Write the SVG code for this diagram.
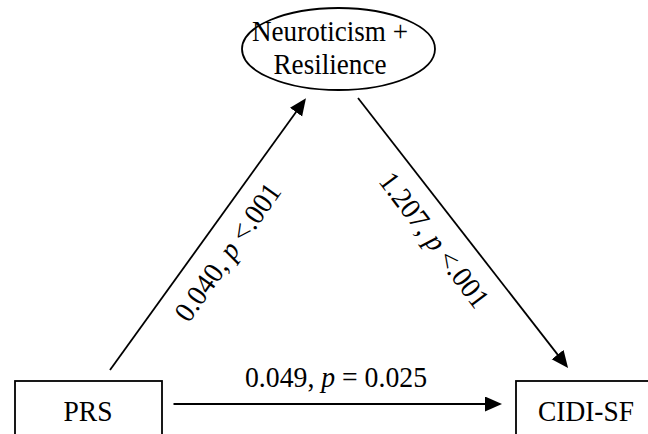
<svg xmlns="http://www.w3.org/2000/svg" width="648" height="434" viewBox="0 0 648 434">
  <style>
    text { font-family: "Liberation Serif", "Times New Roman", serif; font-size: 29px; fill: #000; }
    .node { fill: #fff; stroke: #000; stroke-width: 1.8; }
    .edge { fill: none; stroke: #000; stroke-width: 1.8; marker-end: url(#arrow); }
    .mid { text-anchor: middle; }
    .it { font-style: italic; }
  </style>
  <defs>
    <marker id="arrow" markerUnits="userSpaceOnUse" markerWidth="18" markerHeight="16" refX="14" refY="7.5" orient="auto">
      <path d="M0,0 L17,7.5 L0,15 Z" fill="#000"/>
    </marker>
  </defs>

  <rect width="648" height="434" fill="#fff"/>

  <!-- mediator -->
  <g id="node-mediator">
    <ellipse class="node" cx="338.5" cy="49" rx="96.5" ry="41"/>
    <text class="mid" x="330" y="41" textLength="156" lengthAdjust="spacingAndGlyphs">Neuroticism +</text>
    <text class="mid" x="330" y="74" textLength="113" lengthAdjust="spacingAndGlyphs">Resilience</text>
  </g>

  <!-- predictor -->
  <g id="node-prs">
    <rect class="node" x="15" y="381" width="147" height="70"/>
    <text class="mid" x="88" y="421" textLength="49" lengthAdjust="spacingAndGlyphs">PRS</text>
  </g>

  <!-- outcome -->
  <g id="node-cidi">
    <rect class="node" x="516" y="381" width="150" height="70"/>
    <text class="mid" x="586" y="421" textLength="96" lengthAdjust="spacingAndGlyphs">CIDI-SF</text>
  </g>

  <!-- paths -->
  <g id="connectors">
    <path class="edge" d="M110,370 L304.2,100.7"/>
    <path class="edge" d="M358,98 L566.2,365.6"/>
    <path class="edge" d="M173.5,404 L499,404"/>
    <text transform="translate(229,253) rotate(-54.7)" class="mid" y="8" textLength="162" lengthAdjust="spacingAndGlyphs">0.040, <tspan class="it">p</tspan> &lt;.001</text>
    <text transform="translate(433,241) rotate(52.9)" class="mid" y="8" textLength="162" lengthAdjust="spacingAndGlyphs">1.207, <tspan class="it">p</tspan> &lt;.001</text>
    <text class="mid" x="336" y="387" textLength="182" lengthAdjust="spacingAndGlyphs">0.049, <tspan class="it">p</tspan> = 0.025</text>
  </g>
</svg>
